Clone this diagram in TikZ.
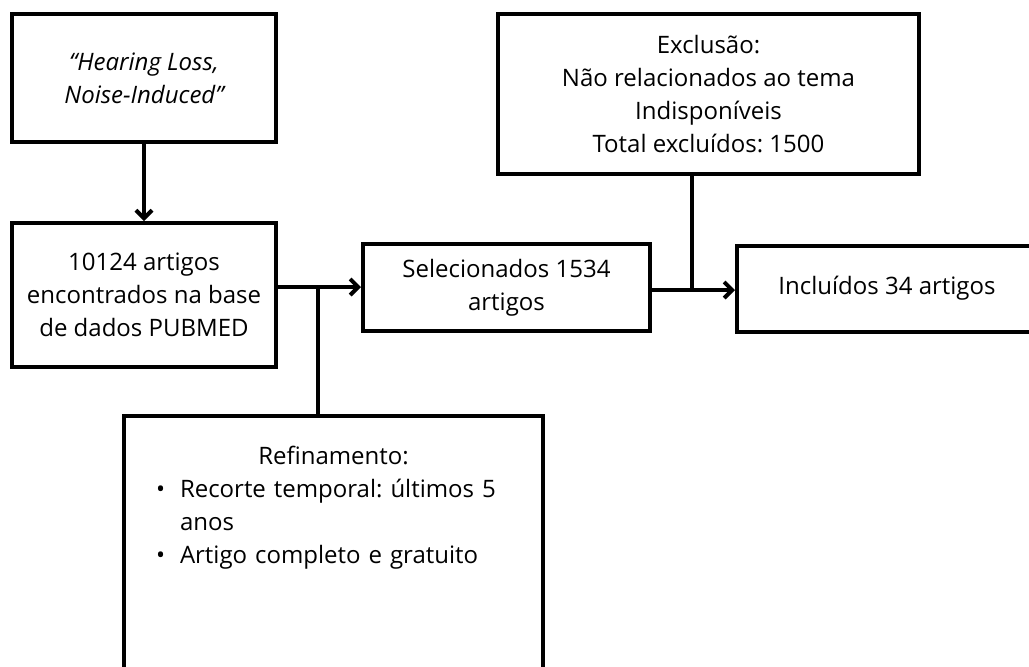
\documentclass[tikz,border=0pt]{standalone}
\usepackage{fontspec}
\setmainfont{Open Sans}
\usepackage{tikz}
\usetikzlibrary{arrows.meta}
\frenchspacing
\tikzstyle{Stage}=[fill=white, line width=2pt, draw=black, shape=rectangle, text=black, align=center, inner sep=0pt]
\tikzstyle{Refine}=[fill=white, line width=2pt, draw=black, shape=rectangle, text=black, anchor=north, text width=177.5pt, inner xsep=16pt, inner ysep=15pt, text depth=104pt]
\tikzstyle{arrow}=[line width=2pt, -{Straight Barb[length=4pt, width=8pt]}]
\tikzstyle{link}=[line width=2pt]
\pgfdeclarelayer{nodelayer}
\pgfdeclarelayer{edgelayer}
\pgfsetlayers{nodelayer, edgelayer}

\begin{document}
\begin{tikzpicture}[x=0.5pt, y=-0.5pt, font=\fontsize{12}{16.5}\selectfont]
	\clip (0, 0) rectangle (1029, 666);
	\begin{pgfonlayer}{nodelayer}
		\node [style=Stage, minimum width=132pt, minimum height=64pt] (query) at (144, 78) {\itshape “Hearing Loss,\\ \itshape Noise-Induced”};
		\node [style=Stage, minimum width=132pt, minimum height=72pt] (pubmed) at (144, 295) {10124 artigos\\ encontrados na base\\ de dados PUBMED};
		\node [style=Stage, minimum width=143.5pt, minimum height=43.5pt] (selected) at (506.5, 287.5) {Selecionados 1534\\ artigos};
		\node [style=Stage, minimum width=210.5pt, minimum height=80pt] (excluded) at (708.5, 94) {Exclusão:\\ Não relacionados ao tema\\ Indisponíveis\\ Total excluídos: 1500};
		\node [style=Stage, minimum width=150pt, minimum height=43pt] (included) at (887, 288.5) {Incluídos 34 artigos};
		\node [style=Refine] (refine) at (333.5, 414) {\centering Refinamento:\par
			\raggedright\hangindent=12pt\hangafter=1\makebox[12pt][l]{\textbullet}Recorte temporal: últimos 5 anos\par
			\hangindent=12pt\hangafter=1\makebox[12pt][l]{\textbullet}Artigo completo e gratuito\par};
		\coordinate (split) at (318, 287);
		\coordinate (merge) at (692, 290);
	\end{pgfonlayer}
	\begin{pgfonlayer}{edgelayer}
		\draw [style=arrow] (query) to (pubmed);
		\draw [style=arrow] (pubmed.east |- split) to (split -| selected.west);
		\draw [style=link] (split) to (split |- refine.north);
		\draw [style=arrow] (selected.east |- merge) to (merge -| included.west);
		\draw [style=link] (merge) to (merge |- excluded.south);
	\end{pgfonlayer}
\end{tikzpicture}
\end{document}
